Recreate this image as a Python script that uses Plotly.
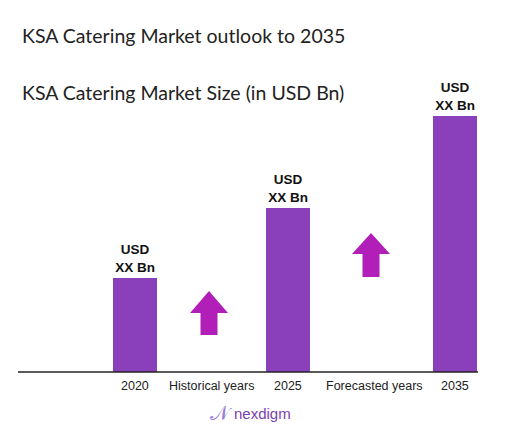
import plotly.graph_objects as go

# layout in pixel-like units: x 0..512, y = height above the baseline
years = ["2020", "2025", "2035"]
bar_x = [135, 288, 455]
bar_h = [94, 164, 256]
bar_labels = ["<b>USD<br>XX Bn</b>"] * 3
period_labels = ["Historical years", "Forecasted years"]
period_x = [211, 374]

BAR = "#8A40BA"
ARROW = "#B21FB8"

fig = go.Figure()
fig.add_trace(go.Bar(
    x=bar_x, y=bar_h, width=44, marker_color=BAR, marker_line_width=0,
    text=bar_labels, textposition="outside", cliponaxis=False,
    textfont=dict(family="Liberation Sans", size=13.5, color="#111"),
))

def arrow(cx, tip, hb, bot, hw, sw):
    return (f"M{cx},{tip} L{cx+hw},{hb} L{cx+sw},{hb} L{cx+sw},{bot} "
            f"L{cx-sw},{bot} L{cx-sw},{hb} L{cx-hw},{hb} Z")

for cx, tip, hb, bot in [(209, 81, 59, 37), (371, 139, 118, 95)]:
    fig.add_shape(type="path", path=arrow(cx, tip, hb, bot, 19, 8.5),
                  fillcolor=ARROW, line_width=0)

fig.add_shape(type="line", x0=18, x1=478, y0=0, y1=0, line=dict(color="#222", width=1.5))

ann = [dict(x=x, y=-14, text=t) for x, t in zip(bar_x, years)]
ann += [dict(x=x, y=-14, text=t) for x, t in zip(period_x, period_labels)]
for a in ann:
    fig.add_annotation(x=a["x"], y=a["y"], text=a["text"], showarrow=False,
                       font=dict(family="Liberation Sans", size=12.5, color="#222"))

fig.add_annotation(x=20, y=337, xanchor="left", text="KSA Catering Market outlook to 2035",
                   showarrow=False, font=dict(family="Lato", size=19.5, color="#222"))
fig.add_annotation(x=20, y=280, xanchor="left", text="KSA Catering Market Size (in USD Bn)",
                   showarrow=False, font=dict(family="Lato", size=19.5, color="#222"))
fig.add_annotation(x=208, y=-41, xanchor="left", text="𝒩",
                   showarrow=False, font=dict(family="DejaVu Sans", size=20, color="#9B7FD6"))
fig.add_annotation(x=232, y=-41, xanchor="left", text="nexdigm",
                   showarrow=False, font=dict(family="Liberation Sans", size=15, color="#7A3FB0"))

fig.update_layout(
    width=512, height=439, margin=dict(l=0, r=0, t=0, b=0),
    plot_bgcolor="white", paper_bgcolor="white", showlegend=False,
    xaxis=dict(range=[8, 520], visible=False, fixedrange=True),
    yaxis=dict(range=[-75, 364], visible=False, fixedrange=True),
)
fig.write_html("out.html")
